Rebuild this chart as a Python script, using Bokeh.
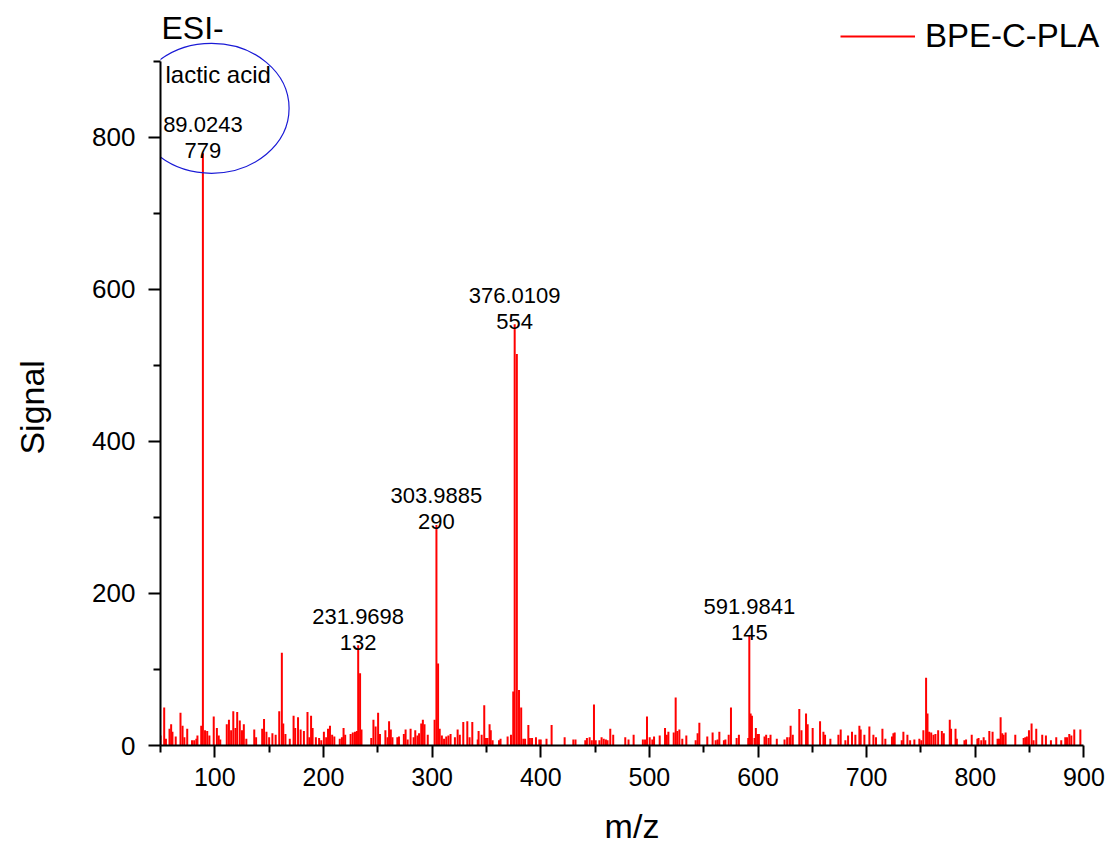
import math
from bokeh.plotting import figure
from bokeh.models import Range1d, Legend, LegendItem, Label, FixedTicker, ColumnDataSource
from bokeh.core.properties import value
from bokeh.embed import file_html
from bokeh.resources import INLINE

FONT = "Liberation Sans"

# Major peaks (m/z, signal)
peak_mz = [89.0243, 161.7, 231.9698, 233.7, 303.9885, 305.5, 348.0, 374.7, 376.0109, 378.0, 380.0, 382.0,
           449.0, 524.2, 575.1, 591.9841, 593.2, 594.4, 754.7, 756.0]
peak_sig = [779, 122, 132, 95, 290, 108, 53, 71, 554, 515, 73, 50,
            54, 63, 50, 145, 42, 39, 89, 42]

# Baseline noise peaks (m/z, signal)
noise_mz = [50.0, 53.4, 55.0, 58.3, 59.8, 61.0, 64.0, 68.4, 70.3, 72.0, 74.6, 79.0, 81.0, 83.0, 84.0, 87.5,
            91.0, 93.0, 95.0, 99.0, 101.9, 103.6, 105.0, 111.0, 113.0, 115.0, 117.0, 119.0, 120.6, 123.0,
            125.0, 126.7, 129.0, 136.3, 138.0, 143.6, 145.3, 147.5, 150.0, 153.0, 156.0, 159.3, 163.0,
            165.0, 169.0, 172.5, 174.0, 176.6, 179.0, 182.0, 185.3, 187.0, 188.6, 190.0, 193.0,
            196.0, 198.0, 200.4, 202.5, 204.2, 206.0, 208.0, 210.0, 215.0, 217.0, 218.5, 220.0, 225.0,
            227.0, 229.0, 230.8, 235.0, 244.0, 246.0, 248.0, 250.3, 252.0, 257.0, 259.0, 260.4, 262.0,
            263.5, 268.0, 269.5, 274.0, 275.6, 277.5, 280.2, 283.0, 284.5, 286.5, 288.0, 290.0, 291.5,
            293.0, 296.0, 302.3, 307.0, 309.0, 311.0, 313.0, 315.0, 317.0, 321.0, 323.5, 325.5, 328.7,
            332.4, 334.5, 337.0, 342.0, 342.8, 345.6, 349.6, 351.0, 352.9, 354.0, 355.7, 361.6, 363.0,
            369.5, 372.6, 384.0, 385.6, 388.6, 390.0, 392.0, 395.6, 398.7, 400.0, 405.3, 410.0, 422.0,
            430.0, 432.0, 441.0, 442.5, 445.0, 447.0, 450.6, 454.0, 456.0, 458.0, 460.0, 461.5, 464.0,
            466.7, 477.8, 480.8, 485.5, 494.0, 496.0, 497.8, 500.3, 502.7, 504.3, 509.5, 514.4, 516.0,
            517.5, 522.4, 525.7, 527.6, 530.3, 534.0, 542.6, 544.4, 546.0, 553.3, 558.2, 561.0, 562.8,
            564.4, 568.6, 570.0, 573.0, 580.3, 582.4, 591.0, 596.8, 598.0, 599.6, 600.8, 606.0, 607.5,
            609.7, 611.5, 617.3, 624.4, 626.8, 629.0, 630.0, 632.0, 638.0, 640.0, 644.2, 645.7, 650.3,
            657.1, 660.2, 661.7, 666.6, 674.0, 676.1, 680.4, 682.9, 686.5, 689.6, 693.3, 694.5, 697.9,
            702.5, 706.2, 708.6, 714.5, 717.2, 723.3, 724.6, 725.8, 732.3, 733.8, 737.5, 740.0, 743.9,
            748.5, 750.3, 752.2, 757.5, 759.4, 761.5, 763.3, 765.8, 769.2, 771.0, 776.5, 777.7, 781.8,
            783.0, 790.0, 791.5, 796.7, 801.9, 803.0, 805.5, 807.7, 809.2, 812.9, 815.9, 820.5, 821.8,
            823.3, 824.8, 826.0, 827.9, 836.8, 844.5, 846.0, 847.5, 849.4, 851.8, 853.6, 856.1, 861.6,
            865.0, 869.6, 874.5, 879.1, 882.8, 884.4, 886.5, 888.4, 891.1, 896.7]
noise_sig = [13, 50, 9, 22, 28, 18, 12, 43, 26, 11, 22, 7, 7, 9, 13, 26,
             20, 19, 13, 38, 23, 13, 8, 28, 34, 20, 45, 23, 44, 33,
             20, 28, 9, 21, 11, 22, 35, 18, 11, 16, 14, 45, 29,
             15, 9, 39, 23, 37, 21, 19, 44, 11, 39, 23, 11,
             10, 7, 18, 11, 22, 26, 14, 12, 9, 11, 23, 14, 15,
             17, 18, 19, 21, 10, 34, 25, 43, 15, 20, 11, 32, 21,
             11, 11, 12, 15, 21, 8, 22, 11, 20, 13, 16, 29, 34,
             28, 14, 34, 22, 13, 9, 12, 13, 15, 11, 21, 14, 31,
             32, 11, 31, 8, 19, 14, 10, 10, 28, 20, 7, 7, 9,
             12, 14, 9, 9, 27, 10, 10, 11, 8, 8, 9, 27, 11,
             8, 8, 7, 10, 11, 7, 7, 7, 11, 9, 8, 7, 22,
             14, 11, 8, 14, 8, 8, 38, 11, 8, 12, 13, 23, 14,
             18, 17, 19, 21, 9, 13, 7, 16, 30, 12, 17, 7, 8,
             18, 7, 8, 14, 10, 14, 10, 10, 23, 15, 15, 12, 14,
             10, 14, 9, 8, 11, 11, 26, 14, 48, 20, 42, 28, 23,
             32, 18, 14, 9, 14, 21, 7, 13, 18, 14, 26, 21, 14,
             25, 14, 11, 22, 9, 12, 16, 17, 7, 18, 14, 7, 8,
             9, 7, 20, 18, 17, 14, 15, 20, 19, 16, 34, 22, 22,
             9, 7, 8, 14, 9, 10, 7, 11, 7, 19, 18, 9, 9,
             37, 16, 14, 17, 14, 10, 11, 12, 20, 29, 7, 22, 14,
             13, 7, 11, 7, 11, 11, 15, 13, 21, 21]

# Annotated peaks
ann_mz = [89.0243, 231.9698, 303.9885, 376.0109, 591.9841]
ann_sig = [779, 132, 290, 554, 145]

x_ticks = [100, 200, 300, 400, 500, 600, 700, 800, 900]
x_minor = [50, 150, 250, 350, 450, 550, 650, 750, 850]
y_ticks = [0, 200, 400, 600, 800]
y_minor = [100, 300, 500, 700, 900]

all_mz = peak_mz + noise_mz
all_sig = peak_sig + noise_sig
src = ColumnDataSource(dict(mz=all_mz, zero=[0] * len(all_mz), sig=all_sig))

p = figure(width=1110, height=848, output_backend="svg", toolbar_location=None,
           x_range=Range1d(50, 918), y_range=Range1d(0, 964),
           min_border_left=160, min_border_right=7, min_border_top=12, min_border_bottom=103)
p.xgrid.visible = False
p.ygrid.visible = False
p.outline_line_color = None
p.background_fill_color = "white"

r = p.segment(x0="mz", y0="zero", x1="mz", y1="sig", source=src, line_color="#ff0000", line_width=2)

for ax, ticks, minor, bounds in ((p.xaxis[0], x_ticks, x_minor, (50, 900)),
                                 (p.yaxis[0], y_ticks, y_minor, (0, 900))):
    ax.ticker = FixedTicker(ticks=ticks, minor_ticks=minor)
    ax.bounds = bounds
    ax.axis_line_width = 2
    ax.axis_line_color = "black"
    ax.major_tick_line_width = 2
    ax.minor_tick_line_width = 2
    ax.major_tick_in = 0
    ax.major_tick_out = 12
    ax.minor_tick_in = 0
    ax.minor_tick_out = 7
    ax.major_label_text_font = FONT
    ax.major_label_text_font_size = "25px"
    ax.major_label_text_color = "black"
    ax.axis_label_text_font = FONT
    ax.axis_label_text_font_size = "34px"
    ax.axis_label_text_font_style = "normal"
    ax.axis_label_text_color = "black"

p.xaxis.major_label_standoff = 10
p.yaxis.major_label_standoff = 13
p.yaxis.major_label_text_font_size = "26px"
p.xaxis.axis_label = "m/z"
p.xaxis.axis_label_standoff = 18
# trailing no-break spaces shift the centred title down to the middle of the 0-900 axis
p.yaxis.axis_label = "Signal" + "\u00a0" * 6
p.yaxis.axis_label_standoff = 38

p.add_layout(Label(x=50, y=943, x_offset=1, text="ESI-", text_align="left",
                   text_baseline="middle", text_font=FONT, text_font_size="32px",
                   text_color="black"))

# peak annotations
asrc = ColumnDataSource(dict(x=ann_mz, y=ann_sig,
                             mzt=["%.4f" % v for v in ann_mz],
                             st=[str(v) for v in ann_sig]))
p.text(x="x", y="y", text="st", source=asrc, text_align="center", text_baseline="alphabetic",
       y_offset=-3, text_font=value(FONT), text_font_size="22px", text_color="black")
p.text(x="x", y="y", text="mzt", source=asrc, text_align="center", text_baseline="alphabetic",
       y_offset=-29, text_font=value(FONT), text_font_size="22px", text_color="black")

# lactic acid note and ellipse
note_x = [54.6]
note_y = [882]
p.text(x=note_x, y=note_y, text=["lactic acid"], text_align="left", text_baseline="middle",
       text_font=value(FONT), text_font_size="24px", text_color="black")
ell_x = [97]
ell_y = [838]
p.ellipse(x=ell_x, y=ell_y, width=142.7, height=171, fill_color=None,
          line_color="#1a1ad6", line_width=1.2)

legend = Legend(items=[LegendItem(label="BPE-C-PLA", renderers=[r])], location=(680, 690),
                glyph_width=75, glyph_height=30, label_height=30, label_standoff=10,
                padding=0, margin=0, spacing=0, border_line_alpha=0, background_fill_alpha=0,
                label_text_font=FONT, label_text_font_size="33px", label_text_color="black")
p.add_layout(legend)

open("out.html", "w").write(file_html(p, INLINE))
